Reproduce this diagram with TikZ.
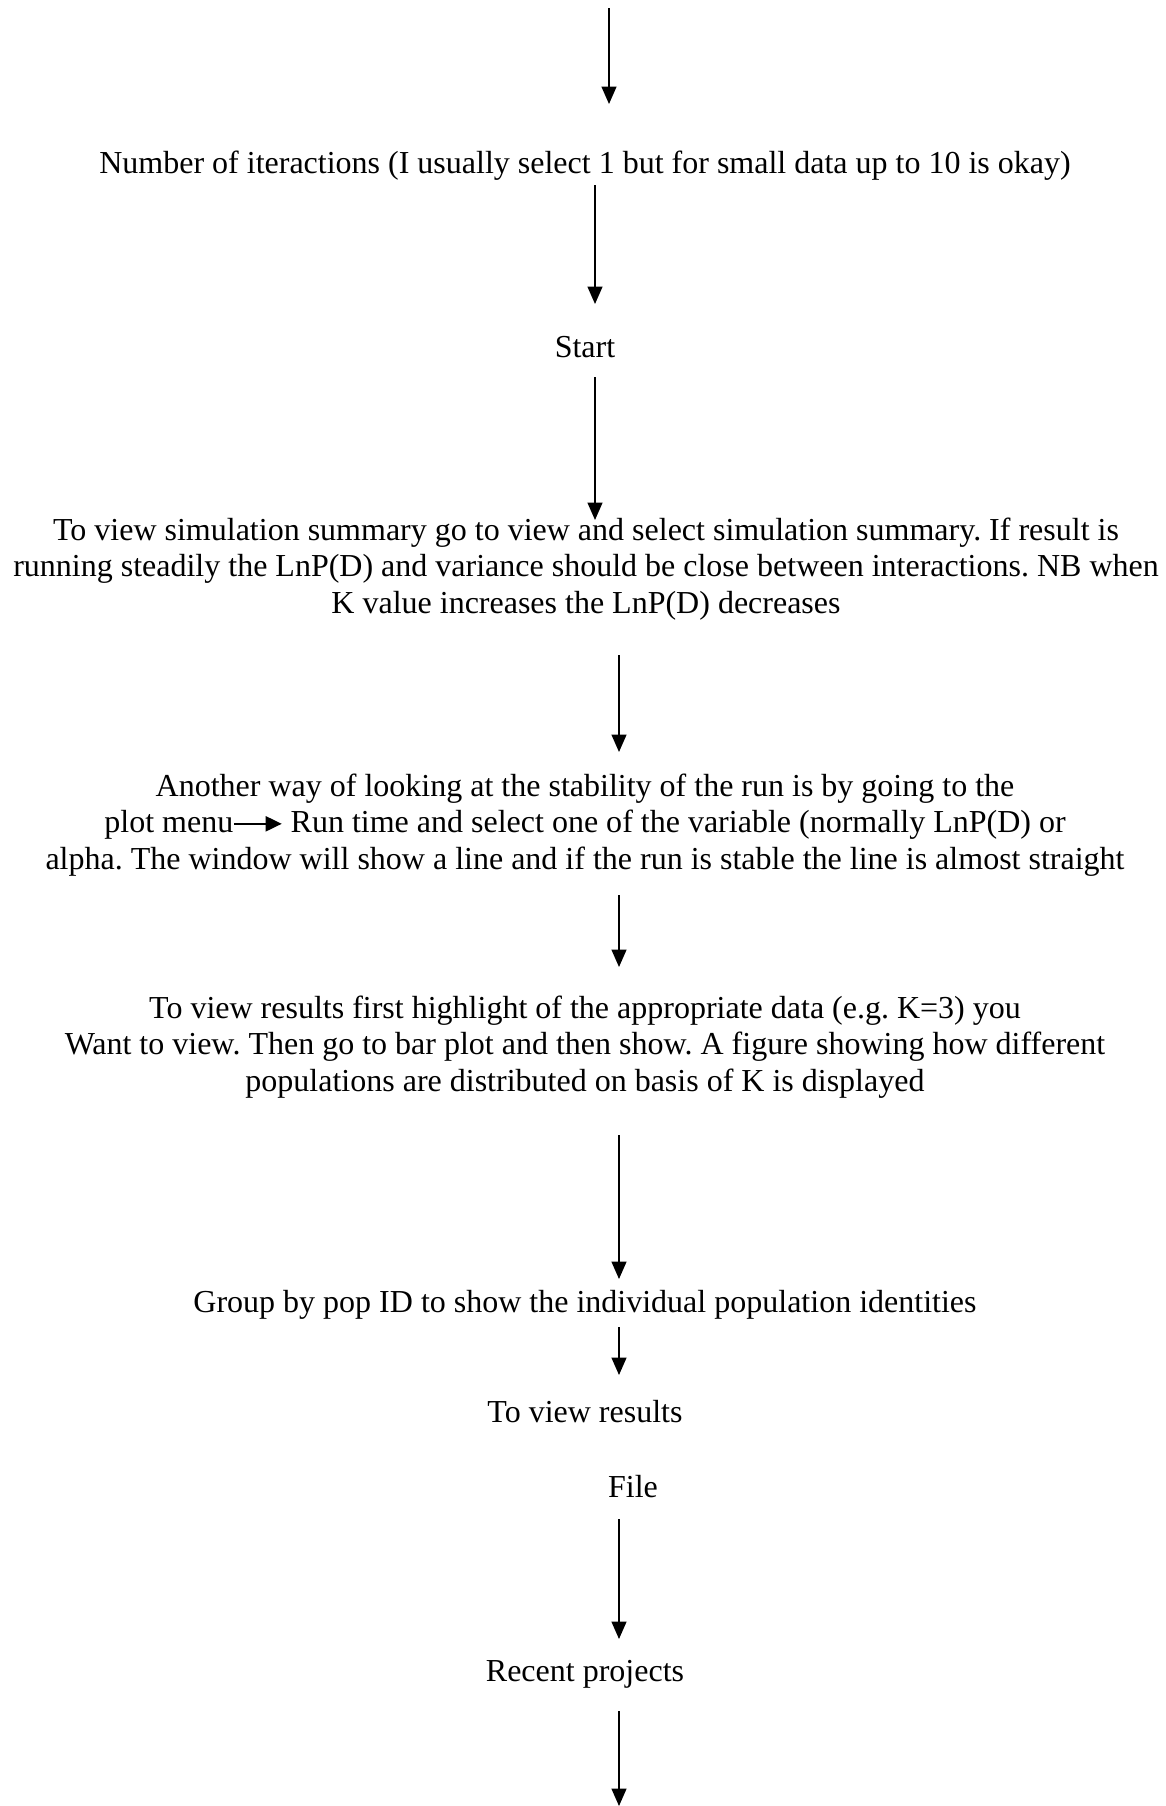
\documentclass[tikz,border=0pt]{standalone}
\usepackage{fontspec}
\setmainfont{Liberation Serif}
\usetikzlibrary{arrows.meta}
\frenchspacing

\begin{document}
\begin{tikzpicture}[x=0.4pt,y=-0.4pt,
    txt/.style={inner sep=0pt, align=center, font=\fontsize{12.8}{14.7}\selectfont},
    line/.style={txt, anchor=base},
    flow/.style={line width=0.6pt, -{Triangle[length=7pt,width=6pt]}}]
            % page frame
            \useasboundingbox (0,0) rectangle (1166,1806);

            % steps
            \coordinate (top) at (609,8);
            \node[line] (iter) at (585,173) {Number of iteractions (I usually select 1 but for small data up to 10 is okay)};
            \node[line] (start) at (585,357) {Start};
            \node[txt] (sim) at (586,569) {To view simulation summary go to view and select simulation summary. If result is\\
                running steadily the LnP(D) and variance should be close between interactions. NB when\\
                K value increases the LnP(D) decreases};
            \node[txt] (stab) at (585,825) {Another way of looking at the stability of the run is by going to the\\
                plot menu\tikz[baseline=-3.6pt]\draw[line width=0.8pt,-{Triangle[length=6.4pt,width=6pt]}] (0pt,0pt) -- (19pt,0pt);\ Run time and select one of the variable (normally LnP(D) or\\
                alpha. The window will show a line and if the run is stable the line is almost straight};
            \node[txt] (res) at (585,1047) {To view results first highlight of the appropriate data (e.g. K=3) you\\
                Want to view. Then go to bar plot and then show. A figure showing how different\\
                populations are distributed on basis of K is displayed};
            \node[line] (group) at (585,1312) {Group by pop ID to show the individual population identities};
            \node[line] (view) at (585,1422) {To view results};
            \node[line] (file) at (633,1497) {File};
            \node[line] (recent) at (585,1681) {Recent projects};
            \coordinate (bottom) at (619,1806);

            % arrows
            \draw[flow] (top) -- ([shift={(24,-69)}]iter.base);
            \draw[flow] ([shift={(10,12)}]iter.base) -- ([shift={(10,-53)}]start.base);
            \draw[flow] ([shift={(10,20)}]start.base) -- ([shift={(9,-49)}]sim.center);
            \draw[flow] ([shift={(33,86)}]sim.center) -- ([shift={(34,-73)}]stab.center);
            \draw[flow] ([shift={(34,70)}]stab.center) -- ([shift={(34,-80)}]res.center);
            \draw[flow] ([shift={(34,88)}]res.center) -- ([shift={(34,-33)}]group.base);
            \draw[flow] ([shift={(34,15)}]group.base) -- ([shift={(34,-47)}]view.base);
            \draw[flow] ([shift={(-14,22)}]file.base) -- ([shift={(34,-42)}]recent.base);
            \draw[flow] ([shift={(34,30)}]recent.base) -- (bottom);
        \end{tikzpicture}
\end{document}
